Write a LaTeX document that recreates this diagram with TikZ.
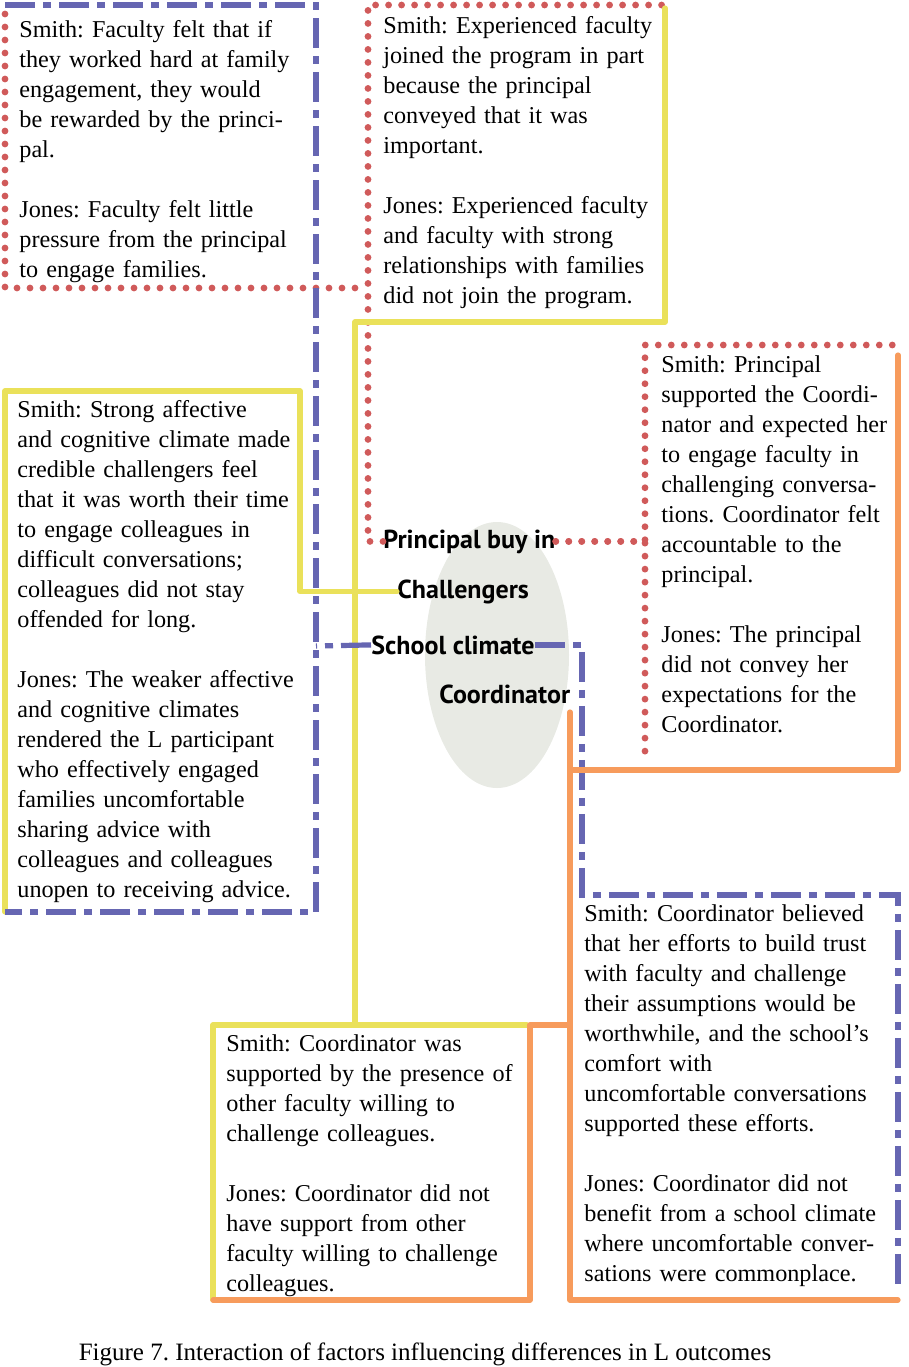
\documentclass[tikz,border=0pt]{standalone}
\usepackage{fontspec}
\setmainfont{Liberation Serif}
\newfontfamily\factorfont{PT Sans}
\usepackage{tikz}
\usetikzlibrary{positioning,calc}
\frenchspacing
\definecolor{climateblue}{RGB}{102,102,178}
\definecolor{buyinred}{RGB}{208,90,90}
\definecolor{challyellow}{RGB}{234,225,90}
\definecolor{coordorange}{RGB}{247,155,92}
\definecolor{ellgray}{RGB}{232,234,228}
\tikzstyle{note}=[anchor=base west,inner sep=0pt,text width=160pt,align=left,font=\fontsize{12.1}{15}\selectfont]
\tikzstyle{factor}=[anchor=base west,inner sep=0pt,font=\factorfont\bfseries\fontsize{13}{15}\selectfont]
\tikzstyle{buyin}=[draw=buyinred,line width=3.4pt,line cap=round,dash pattern=on 0pt off 6.5pt]
\tikzstyle{climate}=[draw=climateblue,line width=2.6pt,dash pattern=on 15pt off 4pt on 4pt off 4pt]
\tikzstyle{chall}=[draw=challyellow,line width=2.6pt,line cap=round,line join=round]
\tikzstyle{coord}=[draw=coordorange,line width=2.6pt,line cap=round,line join=round]

\begin{document}
\begin{tikzpicture}[x=0.5pt,y=-0.5pt]
\useasboundingbox (0,0) rectangle (909,1367);
\fill[ellgray] (497,655) ellipse [x radius=72,y radius=133];

% factors
\node[factor] (buyin) at (383,548) {Principal buy in};
\node[factor] (chall) at (397,598) {Challengers};
\node[factor] (climate) at (371,654) {School climate};
\node[factor] (coord) at (439,703) {Coordinator};
\coordinate (coordfoot) at (570,712);

% notes
\node[note] (smithA) at (19,37) {Smith: Faculty felt that if\\
they worked hard at family\\
engagement, they would\\
be rewarded by the princi-\\
pal.\\[15pt]
Jones: Faculty felt little\\
pressure from the principal\\
to engage families.};
\node[note] (smithB) at (383,33) {Smith: Experienced faculty\\
joined the program in part\\
because the principal\\
conveyed that it was\\
important.\\[15pt]
Jones: Experienced faculty\\
and faculty with strong\\
relationships with families\\
did not join the program.};
\node[note] (smithC) at (661,372) {Smith: Principal\\
supported the Coordi-\\
nator and expected her\\
to engage faculty in\\
challenging conversa-\\
tions. Coordinator felt\\
accountable to the\\
principal.\\[15pt]
Jones: The principal\\
did not convey her\\
expectations for the\\
Coordinator.};
\node[note] (smithD) at (17,417) {Smith: Strong affective\\
and cognitive climate made\\
credible challengers feel\\
that it was worth their time\\
to engage colleagues in\\
difficult conversations;\\
colleagues did not stay\\
offended for long.\\[15pt]
Jones: The weaker affective\\
and cognitive climates\\
rendered the L participant\\
who effectively engaged\\
families uncomfortable\\
sharing advice with\\
colleagues and colleagues\\
unopen to receiving advice.};
\node[note] (smithE) at (584,921) {Smith: Coordinator believed\\
that her efforts to build trust\\
with faculty and challenge\\
their assumptions would be\\
worthwhile, and the school’s\\
comfort with\\
uncomfortable conversations\\
supported these efforts.\\[15pt]
Jones: Coordinator did not\\
benefit from a school climate\\
where uncomfortable conver-\\
sations were commonplace.};
\node[note] (smithF) at (226,1051) {Smith: Coordinator was\\
supported by the presence of\\
other faculty willing to\\
challenge colleagues.\\[15pt]
Jones: Coordinator did not\\
have support from other\\
faculty willing to challenge\\
colleagues.};

% links
\draw[buyin] (5,14) |- (368,288);
\draw[buyin] (buyin.west) -| (368,5) -- (662,5);
\draw[buyin] (buyin.east) -| (645,345) -- (898,345);
\draw[buyin] (buyin.east) -| (645,757);

\draw[chall] (chall.west) -| (300,391) -| (5,912);
\draw[chall] (665,8) |- (355,322) -- (355,1025) -| (213,1300);
\draw[chall] (355,1025) -- (527,1025);

\draw[climate] (5,5) -| (316,912) -- (5,912);
\draw[climate] (climate.west) -- (316,646);
\draw[climate] (climate.east) -| (582,895) -| (898,1290);

\draw[coord] (coordfoot) |- (898,1300);
\draw[coord] (570,770) -| (898,355);
\draw[coord] (570,1025) -| (530,1300) -- (213,1300);

\node[anchor=base,font=\fontsize{12.5}{15}\selectfont] (caption) at (425,1360) {Figure 7. Interaction of factors influencing differences in L outcomes};
\end{tikzpicture}
\end{document}
